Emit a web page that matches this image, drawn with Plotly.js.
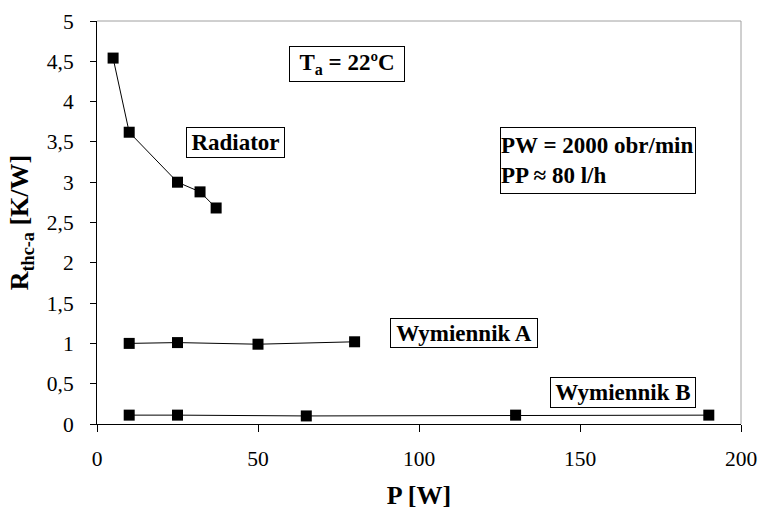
<!DOCTYPE html>
<html>
<head>
<meta charset="utf-8">
<script src="https://cdn.plot.ly/plotly-3.0.1.min.js"></script>
<style>html,body{margin:0;padding:0;background:#fff;}#chart{width:762px;height:510px;}</style>
</head>
<body>
<div id="chart"></div>
<script>
// Data
const radiatorP = [5, 10, 25, 32, 37];
const radiatorR = [4.54, 3.62, 3.00, 2.88, 2.68];
const wymAP = [10, 25, 50, 80];
const wymAR = [1.00, 1.01, 0.99, 1.02];
const wymBP = [10, 25, 65, 130, 190];
const wymBR = [0.11, 0.11, 0.10, 0.11, 0.11];
const xTickVals = [0, 50, 100, 150, 200];
const xTickText = ['0', '50', '100', '150', '200'];
const yTickVals = [0, 0.5, 1, 1.5, 2, 2.5, 3, 3.5, 4, 4.5, 5];
const yTickText = ['0', '0,5', '1', '1,5', '2', '2,5', '3', '3,5', '4', '4,5', '5'];

const FONT = 'Liberation Serif';

function series(x, y, name) {
  return {
    x: x, y: y, name: name, type: 'scatter', mode: 'lines+markers',
    line: {color: '#000', width: 1},
    marker: {symbol: 'square', size: 11, color: '#000'},
    cliponaxis: false,
    showlegend: false
  };
}

const data = [
  series(radiatorP, radiatorR, 'Radiator'),
  series(wymAP, wymAR, 'Wymiennik A'),
  series(wymBP, wymBR, 'Wymiennik B')
];

function box(x, y, text, w, h, align) {
  return {
    x: x, y: y, xref: 'x', yref: 'y', text: text, showarrow: false,
    xanchor: 'center', yanchor: 'middle',
    font: {family: FONT, size: 23, color: '#000'},
    bordercolor: '#000', borderwidth: 1, borderpad: 0, bgcolor: '#fff',
    width: w, height: h, align: align || 'center'
  };
}

const layout = {
  width: 762, height: 510,
  margin: {l: 97, r: 20.5, t: 20.7, b: 85.7, pad: 0},
  paper_bgcolor: '#fff', plot_bgcolor: '#fff',
  font: {family: FONT, color: '#000', size: 21.5},
  xaxis: {
    range: [0, 200], tickvals: xTickVals, ticktext: xTickText,
    showgrid: false, zeroline: false, showline: true, linecolor: '#000', linewidth: 1,
    ticks: 'outside', ticklen: 7, tickcolor: '#000', tickwidth: 1,
    ticklabelstandoff: 8,
    tickfont: {family: FONT, size: 21.5, color: '#000'},
    title: {text: '<b>P [W]</b>', font: {family: FONT, size: 26, color: '#000'}, standoff: 23}
  },
  yaxis: {
    range: [0, 5], tickvals: yTickVals, ticktext: yTickText,
    showgrid: false, zeroline: false, showline: true, linecolor: '#000', linewidth: 1,
    ticks: 'outside', ticklen: 6, tickcolor: '#000', tickwidth: 1,
    ticklabelstandoff: 12,
    tickfont: {family: FONT, size: 21.5, color: '#000'},
    title: {text: '<b>R<sub>thc-a</sub> [K/W]</b>', font: {family: FONT, size: 26, color: '#000'}, standoff: 10}
  },
  shapes: [
    {type: 'line', xref: 'paper', yref: 'paper', x0: 0, x1: 1, y0: 1, y1: 1, line: {color: '#a0a0a0', width: 1}},
    {type: 'line', xref: 'paper', yref: 'paper', x0: 1, x1: 1, y0: 0, y1: 1, line: {color: '#a0a0a0', width: 1}}
  ],
  annotations: [
    box(77.6, 4.465, '<b>T<sub>a</sub> = 22ºC</b>', 114, 34),
    box(43.0, 3.49, '<b>Radiator</b>', 97, 29),
    box(155.6, 3.27, '<b>PW = 2000 obr/min<br>PP ≈ 80 l/h</b>', 194, 65, 'left'),
    box(114.0, 1.134, '<b>Wymiennik A</b>', 146, 28),
    box(163.3, 0.394, '<b>Wymiennik B</b>', 144, 29)
  ]
};

Plotly.newPlot('chart', data, layout, {staticPlot: true, displayModeBar: false});
</script>
</body>
</html>
